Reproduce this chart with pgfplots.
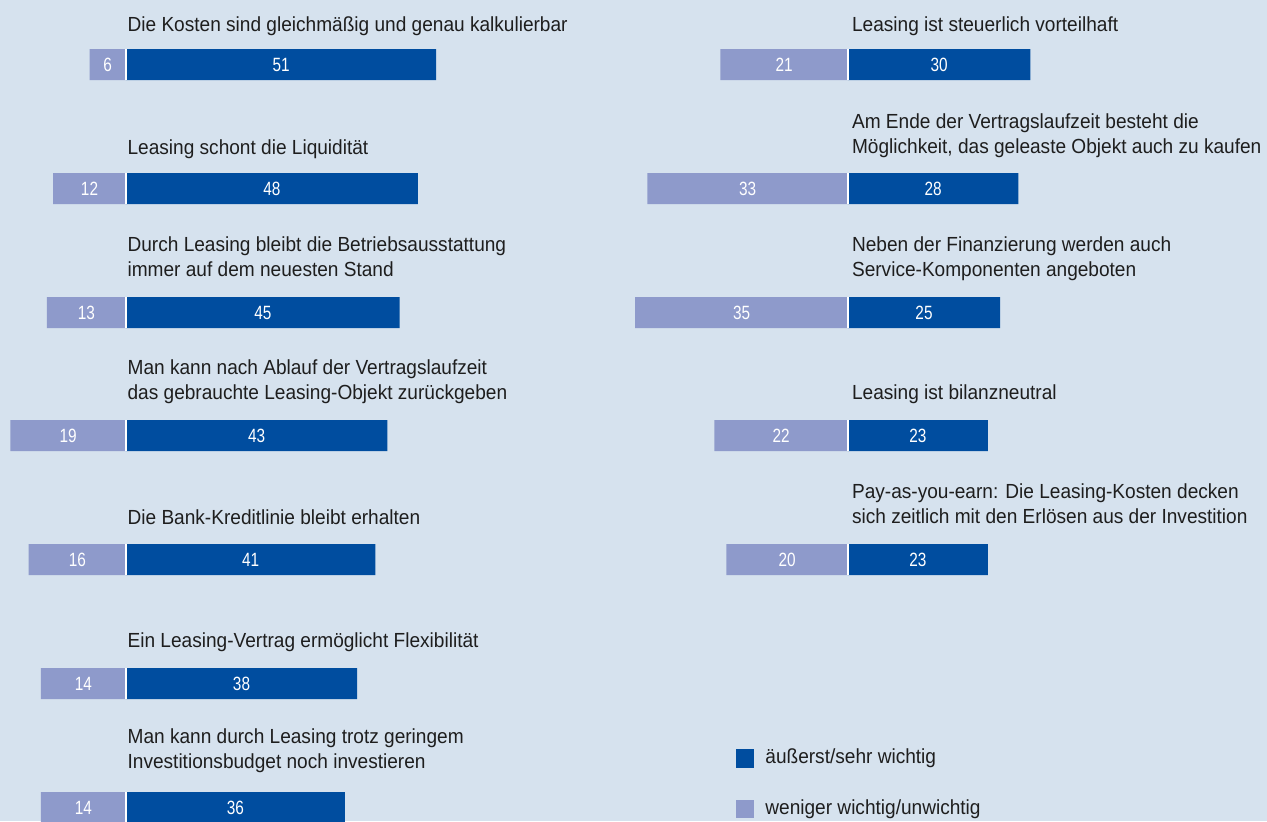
\documentclass[border=0pt]{standalone}
\usepackage{fontspec}
\setmainfont{Liberation Sans}
\newfontfamily\labfont[FakeStretch=0.935]{Liberation Sans}
\newfontfamily\numfont[FakeStretch=0.8]{Liberation Sans}
\usepackage{pgfplots}
\pgfplotsset{compat=1.18}
\definecolor{bg}{HTML}{D6E2EE}
\definecolor{darkb}{HTML}{004D9F}
\definecolor{lightb}{HTML}{8E9ACB}
\definecolor{txt}{HTML}{1E1E1E}
\pgfplotsset{
  panel/.style={
    scale only axis, height=410.5pt,
    ymin=0, ymax=821, y dir=reverse,
    hide axis, clip=false,
    bar width=15.5pt, bar shift=0pt,
    anchor=south west,
  },
  barval/.style={draw=none, mark=none, nodes near coords, point meta=explicit symbolic,
    every node near coord/.style={anchor=center, inner sep=0pt, text=white,
      font=\numfont\fontsize{9.6pt}{11pt}\selectfont}},
}
\tikzset{
  lab/.style={anchor=base west, inner sep=0pt, text=txt, font=\labfont\fontsize{10.2pt}{12pt}\selectfont},
  sep/.style={white, line width=0.9pt},
}
\begin{document}
\begin{tikzpicture}
\path[use as bounding box, fill=bg] (0,0) rectangle (633.5pt,410.5pt);
% ---------------- left column ----------------
\begin{axis}[panel, at={(0pt,0pt)}, width=316.5pt, xmin=-20.724, xmax=83.388]
\addplot[xbar, fill=darkb, draw=none] coordinates {(51,64.5) (48,188.5) (45,312.5) (43,435.5) (41,559.5) (38,683.5) (36,807.5)};
\addplot[xbar, fill=lightb, draw=none] coordinates {(-6,64.5) (-12,188.5) (-13,312.5) (-19,435.5) (-16,559.5) (-14,683.5) (-14,807.5)};
\addplot[barval] coordinates {(25.5,64.5)[51] (24,188.5)[48] (22.5,312.5)[45] (21.5,435.5)[43] (20.5,559.5)[41] (19,683.5)[38] (18,807.5)[36]};
\addplot[barval] coordinates {(-3,64.5)[6] (-6,188.5)[12] (-6.5,312.5)[13] (-9.5,435.5)[19] (-8,559.5)[16] (-7,683.5)[14] (-7,807.5)[14]};
\pgfplotsinvokeforeach{64.5,188.5,312.5,435.5,559.5,683.5,807.5}{
  \draw[sep] (axis cs:0,{#1-15.5}) -- (axis cs:0,{#1+15.5});
}
\node[lab] at (axis cs:0.2,31) {Die Kosten sind gleichmäßig und genau kalkulierbar};
\node[lab] at (axis cs:0.2,154) {Leasing schont die Liquidität};
\node[lab] at (axis cs:0.2,251.5) {Durch Leasing bleibt die Betriebsausstattung};
\node[lab] at (axis cs:0.2,276.5) {immer auf dem neuesten Stand};
\node[lab] at (axis cs:0.2,374.5) {Man kann nach Ablauf der Vertragslaufzeit};
\node[lab] at (axis cs:0.2,399.5) {das gebrauchte Leasing-Objekt zurückgeben};
\node[lab] at (axis cs:0.2,524) {Die Bank-Kreditlinie bleibt erhalten};
\node[lab] at (axis cs:0.2,647.5) {Ein Leasing-Vertrag ermöglicht Flexibilität};
\node[lab] at (axis cs:0.2,743.5) {Man kann durch Leasing trotz geringem};
\node[lab] at (axis cs:0.2,768.5) {Investitionsbudget noch investieren};
\end{axis}
% ---------------- right column ----------------
\begin{axis}[panel, at={(316.5pt,0pt)}, width=317pt, xmin=-35.362, xmax=68.914,
  legend style={draw=none, fill=none, at={(axis cs:-18.42,749)}, anchor=north west,
    inner sep=0pt, outer sep=0pt, row sep=16pt,
    font=\labfont\fontsize{10.2pt}{12pt}\selectfont, text=txt,
    nodes={inner sep=0pt, text height=7.3pt, text depth=2pt}},
  legend cell align=left,
  legend image code/.code={\fill[#1] (0pt,-4.6pt) rectangle (9.2pt,4.6pt); \path (14.7pt,0pt);},
]
\addplot[xbar, fill=darkb, draw=none] coordinates {(30,64.5) (28,188.5) (25,312.5) (23,435.5) (23,559.5)};
\addlegendentry{äußerst/sehr wichtig}
\addplot[xbar, fill=lightb, draw=none] coordinates {(-21,64.5) (-33,188.5) (-35,312.5) (-22,435.5) (-20,559.5)};
\addlegendentry{weniger wichtig/unwichtig}
\addplot[barval, forget plot] coordinates {(15,64.5)[30] (14,188.5)[28] (12.5,312.5)[25] (11.5,435.5)[23] (11.5,559.5)[23]};
\addplot[barval, forget plot] coordinates {(-10.5,64.5)[21] (-16.5,188.5)[33] (-17.5,312.5)[35] (-11,435.5)[22] (-10,559.5)[20]};
\pgfplotsinvokeforeach{64.5,188.5,312.5,435.5,559.5}{
  \draw[sep] (axis cs:0,{#1-15.5}) -- (axis cs:0,{#1+15.5});
}
\node[lab] at (axis cs:0.6,31) {Leasing ist steuerlich vorteilhaft};
\node[lab] at (axis cs:0.6,128) {Am Ende der Vertragslaufzeit besteht die};
\node[lab] at (axis cs:0.6,153) {Möglichkeit, das geleaste Objekt auch zu kaufen};
\node[lab] at (axis cs:0.6,251.5) {Neben der Finanzierung werden auch};
\node[lab] at (axis cs:0.6,276.5) {Service-Komponenten angeboten};
\node[lab] at (axis cs:0.6,399.5) {Leasing ist bilanzneutral};
\node[lab] at (axis cs:0.6,498.5) {Pay-as-you-earn: Die Leasing-Kosten decken};
\node[lab] at (axis cs:0.6,523.5) {sich zeitlich mit den Erlösen aus der Investition};
\end{axis}
\end{tikzpicture}
\end{document}
